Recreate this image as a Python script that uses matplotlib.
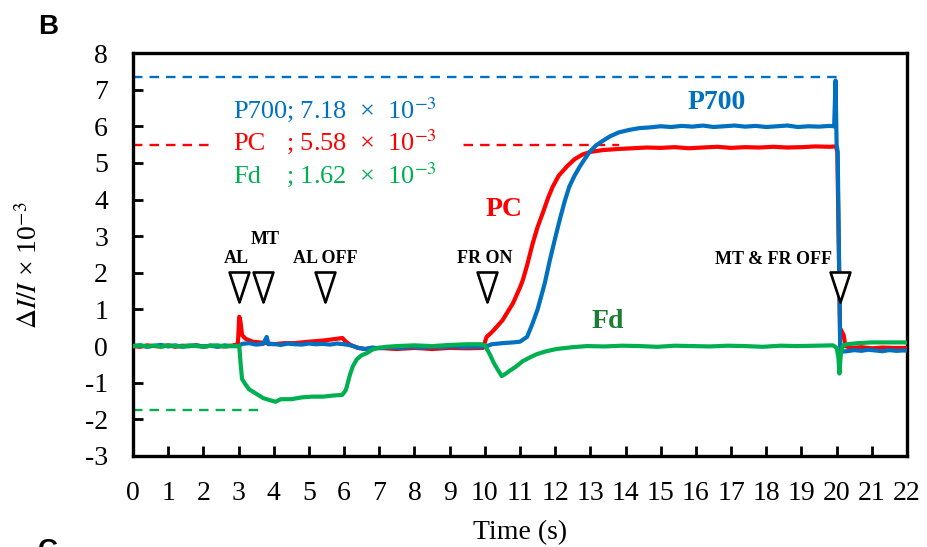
import numpy as np
import matplotlib.pyplot as plt
from matplotlib.path import Path

plt.rcParams['font.family'] = ['Liberation Serif', 'DejaVu Serif']
plt.rcParams['mathtext.fontset'] = 'stix'
plt.rcParams['axes.unicode_minus'] = False

# ===================== DATA =====================
p700_t = [0, 0.2, 0.4, 0.6, 0.8, 1.0, 1.2, 1.4, 1.6, 1.8, 2.0, 2.2, 2.4, 2.6, 2.8, 3.0,
          3.1, 3.3, 3.5, 3.7, 3.8, 3.85, 4.0, 4.2, 4.4, 4.6, 4.8, 5.0, 5.2, 5.4, 5.6, 5.8,
          6.0, 6.2, 6.4, 6.6, 6.8, 7.0, 7.3, 7.6, 7.9, 8.2, 8.5, 8.8, 9.1, 9.4, 9.7, 10.0,
          10.2, 10.5, 10.8, 11.0, 11.2, 11.35, 11.5, 11.7, 11.85, 12.0, 12.13, 12.27, 12.4,
          12.55, 12.7, 12.85, 12.98, 13.15, 13.35, 13.55, 13.8, 14.1, 14.4, 14.7, 15.0, 15.3,
          15.6, 15.9, 16.2, 16.5, 16.8, 17.1, 17.4, 17.7, 18.0, 18.3, 18.6, 18.9, 19.2, 19.5,
          19.8, 19.93, 19.97, 20.0, 20.03, 20.1, 20.14, 20.3, 20.5, 20.7, 20.9, 21.1, 21.3,
          21.5, 21.7, 21.9, 22.0]
p700_v = [0.0, 0.02, -0.02, 0.01, 0.03, -0.01, 0.02, -0.02, 0.0, 0.02, -0.01, 0.01, -0.02, 0.02, 0.0, 0.0,
          0.06, 0.08, 0.04, 0.06, 0.25, 0.05, 0.06, 0.03, 0.07, 0.05, 0.04, 0.07, 0.05, 0.06, 0.04, 0.07,
          0.05, 0.02, -0.05, -0.08, -0.04, -0.06, -0.03, -0.05, -0.02, -0.04, -0.02, -0.03, -0.01, -0.03, -0.02, -0.02,
          0.05, 0.08, 0.1, 0.12, 0.25, 0.6, 1.0, 1.7, 2.35, 2.95, 3.45, 3.95, 4.35,
          4.65, 4.9, 5.12, 5.3, 5.47, 5.6, 5.72, 5.83, 5.9, 5.95, 5.97, 6.0, 5.98,
          6.01, 5.99, 6.02, 5.98, 6.0, 6.02, 5.99, 6.01, 5.98, 6.0, 6.02, 5.98, 6.0, 5.99,
          6.01, 6.0, 7.25, 5.5, 5.3, 0.0, -0.15, -0.14, -0.11, -0.13, -0.1, -0.12, -0.14,
          -0.11, -0.13, -0.12, -0.12]

pc_t = [0, 0.2, 0.4, 0.6, 0.8, 1.0, 1.2, 1.4, 1.6, 1.8, 2.0, 2.2, 2.4, 2.6, 2.8, 2.98,
        3.02, 3.05, 3.1, 3.2, 3.4, 3.6, 3.8, 4.0, 4.3, 4.6, 5.0, 5.4, 5.8, 5.95, 6.05, 6.2,
        6.4, 6.6, 7.0, 7.5, 8.0, 8.5, 9.0, 9.5, 9.95, 10.0, 10.05, 10.2, 10.5, 10.8, 11.0,
        11.08, 11.2, 11.36, 11.5, 11.65, 11.8, 11.93, 12.1, 12.33, 12.55, 12.78, 13.0, 13.35,
        13.8, 14.2, 14.6, 15.0, 15.4, 15.8, 16.2, 16.6, 17.0, 17.4, 17.8, 18.2, 18.6, 19.0,
        19.4, 19.8, 19.98, 20.02, 20.1, 20.12, 20.2, 20.25, 20.4, 20.7, 21.0, 21.3, 21.6, 22.0]
pc_v = [0.0, -0.02, 0.02, 0.0, -0.01, 0.02, -0.02, 0.01, 0.0, 0.02, -0.02, 0.01, 0.0, -0.01, 0.01, 0.05,
        0.8, 0.7, 0.3, 0.2, 0.12, 0.1, 0.08, 0.05, 0.08, 0.08, 0.12, 0.15, 0.2, 0.22, 0.12, 0.02,
        -0.05, -0.08, -0.05, -0.08, -0.05, -0.08, -0.05, -0.06, -0.05, 0.1, 0.25, 0.38, 0.7, 1.17, 1.6,
        1.8, 2.2, 2.8, 3.25, 3.64, 4.05, 4.35, 4.65, 4.9, 5.1, 5.23, 5.3, 5.35,
        5.38, 5.4, 5.42, 5.41, 5.43, 5.4, 5.42, 5.44, 5.41, 5.43, 5.42, 5.44, 5.42, 5.43,
        5.45, 5.44, 5.45, 5.3, 0.3, 0.45, 0.3, 0.0, -0.05, -0.03, -0.06, -0.04, -0.05, -0.05]

fd_t = [0, 0.2, 0.4, 0.6, 0.8, 1.0, 1.2, 1.4, 1.6, 1.8, 2.0, 2.2, 2.4, 2.6, 2.8, 3.02,
        3.06, 3.1, 3.2, 3.3, 3.5, 3.7, 3.9, 4.05, 4.2, 4.5, 4.8, 5.1, 5.4, 5.7, 5.95, 6.05,
        6.17, 6.25, 6.36, 6.5, 6.65, 6.8, 6.96, 7.2, 7.5, 8.0, 8.5, 9.0, 9.5, 9.9, 10.0,
        10.14, 10.25, 10.34, 10.48, 10.6, 10.7, 10.9, 11.08, 11.3, 11.48, 11.75, 12.04, 12.5,
        12.9, 13.4, 13.9, 14.4, 14.9, 15.4, 15.9, 16.4, 16.9, 17.4, 17.9, 18.4, 18.9, 19.4,
        19.9, 20.0, 20.05, 20.08, 20.12, 20.18, 20.3, 20.6, 21.0, 21.5, 22.0]
fd_v = [0.0, 0.02, -0.01, 0.01, -0.02, 0.02, 0.0, -0.01, 0.02, 0.0, -0.02, 0.01, 0.02, -0.01, 0.0, 0.0,
        -0.5, -0.9, -1.05, -1.18, -1.3, -1.42, -1.48, -1.52, -1.45, -1.45, -1.4, -1.38, -1.38, -1.35, -1.33, -1.2,
        -0.77, -0.55, -0.36, -0.25, -0.19, -0.1, -0.05, -0.02, 0.0, 0.02, 0.0, 0.03, 0.05, 0.05, 0.02,
        -0.22, -0.45, -0.6, -0.82, -0.75, -0.68, -0.55, -0.41, -0.3, -0.22, -0.14, -0.08, -0.03,
        0.0, -0.01, 0.01, 0.0, -0.02, 0.01, 0.0, -0.01, 0.01, 0.0, -0.02, 0.01, 0.0, 0.01,
        0.02, -0.05, -0.3, -0.75, -0.2, 0.02, 0.05, 0.08, 0.1, 0.1, 0.1]

# dashed reference levels: (value, end time)
p700_level, p700_level_end = 7.34, 20.1
pc_level, pc_level_end = 5.5, 13.8
fd_level, fd_level_end = -1.75, 3.7

legend_names = ['P700', 'PC', 'Fd']
legend_values = ['7.18', '5.58', '1.62']

event_t = [3.0, 3.7, 5.47, 10.06, 20.1]
event_labels = ['AL', 'MT', 'AL OFF', 'FR ON', 'MT & FR OFF']

xticks = list(range(0, 23))
yticks = list(range(-3, 9))

blue = '#0070C0'
red = '#FF0000'
green = '#00B050'
dark_green = '#1E7B34'

# ===================== PLOT =====================
fig = plt.figure(figsize=(9.27, 5.47), dpi=100)
ax = fig.add_axes([0.1435, 0.1664, 0.8349, 0.7367])

ax.plot([0, p700_level_end], [p700_level, p700_level], ls=(0, (4, 3)), color=blue, lw=1.7, zorder=1)
ax.plot([0, pc_level_end], [pc_level, pc_level], ls=(0, (4, 3)), color=red, lw=1.7, zorder=1)
ax.plot([0, fd_level_end], [fd_level, fd_level], ls=(0, (4, 3)), color=green, lw=1.7, zorder=1)

ax.plot(pc_t, pc_v, color=red, lw=3.0, zorder=3)
ax.plot(p700_t, p700_v, color=blue, lw=3.0, zorder=4)
ax.plot(fd_t, fd_v, color=green, lw=3.0, zorder=5)

# event markers: open down triangles
tri = Path([(-0.33, 0.5), (0.33, 0.5), (0, -0.5), (-0.33, 0.5)],
           [Path.MOVETO, Path.LINETO, Path.LINETO, Path.CLOSEPOLY])
ax.plot(event_t, [1.61] * len(event_t), ls='none', marker=tri, ms=21.6,
        mfc='white', mec='black', mew=1.9, zorder=7)

lab_style = dict(fontsize=13, fontweight='bold', zorder=8)
ax.text(event_t[0] - 0.05, 2.4, event_labels[0], ha='center', va='center', **lab_style)
ax.text(event_t[1] + 0.05, 2.9, event_labels[1], ha='center', va='center', **lab_style)
ax.text(event_t[2], 2.4, event_labels[2], ha='center', va='center', **lab_style)
ax.text(event_t[3] - 0.05, 2.4, event_labels[3], ha='center', va='center', **lab_style)
ax.text(event_t[4] - 0.23, 2.35, event_labels[4], ha='right', va='center', **lab_style)

# curve labels
ax.text(16.6, 6.64, 'P700', color=blue, fontsize=20, fontweight='bold', ha='center', va='center', zorder=8)
ax.text(10.55, 3.72, 'PC', color=red, fontsize=20, fontweight='bold', ha='center', va='center', zorder=8)
ax.text(13.5, 0.66, 'Fd', color=dark_green, fontsize=20, fontweight='bold', ha='center', va='center', zorder=8)

# amplitude legend
rows_y = [6.23, 5.36, 4.45]
colors = [blue, red, green]
for name, val, y, c in zip(legend_names, legend_values, rows_y, colors):
    box = None
    if name == 'PC':
        box = dict(fc='white', ec='none', pad=14)
    ax.text(2.84, y, name, color=c, fontsize=19, ha='left', va='baseline',
            zorder=9 if box is None else 6, bbox=box)
    box2 = None
    if name == 'PC':
        box2 = dict(fc='white', ec='none', pad=16)
    ax.text(4.35, y, f'; {val}  \u00d7  10$^{{\u22123}}$', color=c, fontsize=19,
            ha='left', va='baseline', zorder=9 if box2 is None else 6, bbox=box2)

ax.set_xlim(0, 22)
ax.set_ylim(-3, 8)
ax.set_xticks(xticks)
ax.set_yticks(yticks)
ax.tick_params(direction='in', length=7, width=2, labelsize=20, pad=18,
               top=False, right=False)
for s in ax.spines.values():
    s.set_linewidth(2.4)

ax.set_xlabel('Time (s)', fontsize=20, labelpad=10)
fig.text(0.032, 0.515, '$\\Delta I/I$ \u00d7 10$^{-3}$',
         rotation=90, fontsize=20, ha='center', va='center')

fig.text(0.041, 0.975, 'B', family='Liberation Sans', fontweight='bold', fontsize=20, va='top')
fig.text(0.041, 0.017, 'C', family='Liberation Sans', fontweight='bold', fontsize=20, va='top')

fig.savefig('out.png', dpi=100)
